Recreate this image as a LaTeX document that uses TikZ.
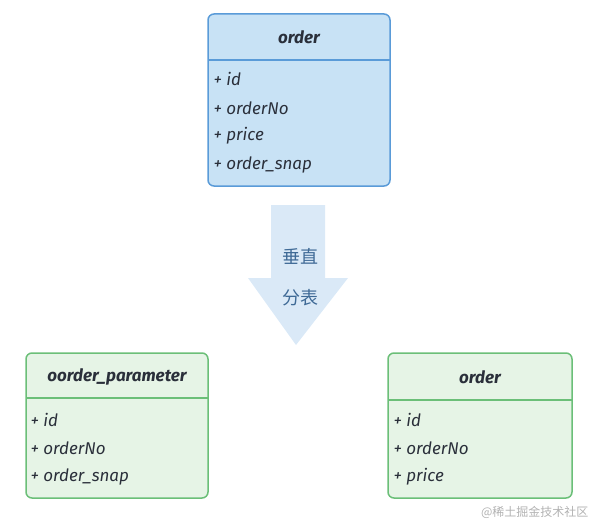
\documentclass[tikz,border=0pt]{standalone}
\usepackage{fontspec}
\setmainfont{Fira Sans}
\newfontfamily\cjk{Noto Sans CJK SC}
\definecolor{bluefill}{HTML}{C8E2F5}
\definecolor{blueline}{HTML}{5A9BD8}
\definecolor{greenfill}{HTML}{E6F4E6}
\definecolor{greenline}{HTML}{6BBF78}
\definecolor{arrowfill}{HTML}{DAE9F7}
\definecolor{txt}{HTML}{2A2F3A}
\definecolor{cjktxt}{HTML}{3F6A96}
\begin{document}
\begin{tikzpicture}[x=1pt,y=-1pt,
  boxb/.style={draw=blueline,fill=bluefill,line width=1.5pt,rounded corners=6pt},
  boxg/.style={draw=greenline,fill=greenfill,line width=1.5pt,rounded corners=6pt},
  title/.style={font=\fontsize{17}{19}\selectfont\bfseries\itshape,text=txt,anchor=center},
  attr/.style={font=\fontsize{17}{19}\selectfont\itshape,text=txt,anchor=west},
  cjkt/.style={font=\cjk\fontsize{18}{20}\selectfont,text=cjktxt}]
\useasboundingbox (0,0) rectangle (593,524);
% top box
\node[boxb,minimum width=182pt,minimum height=172pt,inner sep=0pt] (top) at (299,100) {};
\draw[blueline,line width=1.5pt] (208,60) coordinate (tl) -- (390,60) coordinate (tr);
\node[title] (toptitle) at (299,37) {order};
\node[attr] (t1) at (210,79) {+ id};
\node[attr] (t2) at (210,108) {+ orderNo};
\node[attr] (t3) at (210,136) {+ price};
\node[attr] (t4) at (210,165) {+ order\_snap};
% arrow
\path[fill=arrowfill] (271,205) -- (325,205) -- (325,278) -- (348,278) -- (296,345) -- (248,278) -- (271,278) -- cycle;
\node[cjkt] (a1) at (300,256) {垂直};
\node[cjkt] (a2) at (300,298) {分表};
% bottom left
\node[boxg,minimum width=182pt,minimum height=145pt,inner sep=0pt] (bl) at (117,425.5) {};
\draw[greenline,line width=1.5pt] (26,398) coordinate (bll) -- (208,398) coordinate (blr);
\node[title] (bltitle) at (117,377) {oorder\_parameter};
\node[attr] (b1) at (27,420) {+ id};
\node[attr] (b2) at (27,448) {+ orderNo};
\node[attr] (b3) at (27,477) {+ order\_snap};
% bottom right
\node[boxg,minimum width=184pt,minimum height=145pt,inner sep=0pt] (br) at (480,425.5) {};
\draw[greenline,line width=1.5pt] (388,400) coordinate (brl) -- (572,400) coordinate (brr);
\node[title] (brtitle) at (480,377) {order};
\node[attr] (r1) at (390,420) {+ id};
\node[attr] (r2) at (390,448) {+ orderNo};
\node[attr] (r3) at (390,477) {+ price};
% watermark
\node[font=\cjk\fontsize{12}{14}\selectfont,text=black!30,anchor=east] (wm) at (592,512) {@稀土掘金技术社区};
\end{tikzpicture}
\end{document}
